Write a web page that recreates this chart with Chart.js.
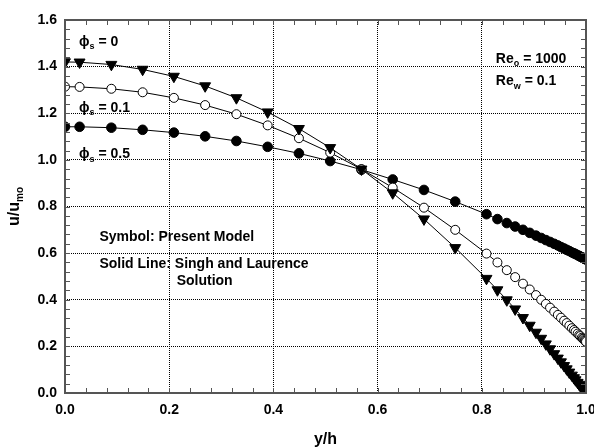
<!DOCTYPE html>
<html>
<head>
<meta charset="utf-8">
<script src="https://cdn.jsdelivr.net/npm/chart.js@4.4.1/dist/chart.umd.min.js"></script>
<style>
    body { margin: 0; background: #fff; }
    #chart-wrap { width: 594px; height: 448px; position: relative; }
</style>
</head>
<body>
<div id="chart-wrap"><canvas id="velocity-chart"></canvas></div>
<script>
// y/h positions of the profile samples (clustered towards the wall)
const yOverH = [0, 0.028, 0.089, 0.149, 0.209, 0.269, 0.329, 0.389, 0.449, 0.509,
    0.569, 0.629, 0.689, 0.749, 0.809, 0.830, 0.848, 0.864, 0.879, 0.892,
    0.904, 0.914, 0.923, 0.931, 0.939, 0.946, 0.952, 0.958, 0.963, 0.968,
    0.973, 0.977, 0.980, 0.984, 0.987, 0.989, 0.992, 0.994, 0.995, 0.997,
    0.998, 0.999, 1.0];

// u/u_mo for phi_s = 0
const uPhi0 = [1.420, 1.419, 1.409, 1.388, 1.358, 1.317, 1.266, 1.205, 1.134, 1.052,
    0.960, 0.858, 0.746, 0.623, 0.491, 0.442, 0.399, 0.360, 0.323, 0.290,
    0.260, 0.234, 0.210, 0.189, 0.168, 0.149, 0.133, 0.117, 0.103, 0.089,
    0.076, 0.065, 0.056, 0.045, 0.037, 0.031, 0.023, 0.017, 0.014, 0.009,
    0.006, 0.003, 0.000];

// u/u_mo for phi_s = 0.1
const uPhi01 = [1.314, 1.313, 1.305, 1.290, 1.266, 1.235, 1.196, 1.148, 1.093, 1.031,
    0.960, 0.881, 0.795, 0.700, 0.598, 0.560, 0.527, 0.497, 0.469, 0.444,
    0.420, 0.400, 0.382, 0.366, 0.349, 0.335, 0.323, 0.310, 0.300, 0.289,
    0.278, 0.270, 0.263, 0.255, 0.248, 0.244, 0.237, 0.233, 0.231, 0.227,
    0.224, 0.222, 0.220];

// u/u_mo for phi_s = 0.5
const uPhi05 = [1.142, 1.142, 1.138, 1.129, 1.117, 1.101, 1.081, 1.056, 1.028, 0.995,
    0.958, 0.916, 0.871, 0.821, 0.767, 0.746, 0.729, 0.714, 0.700, 0.687,
    0.675, 0.665, 0.656, 0.648, 0.640, 0.633, 0.626, 0.620, 0.614, 0.609,
    0.603, 0.599, 0.596, 0.591, 0.588, 0.585, 0.582, 0.580, 0.579, 0.576,
    0.575, 0.574, 0.573];

const FONT = '"Liberation Sans", Arial, Helvetica, sans-serif';
const PHI = '\u03d5';

const toPoints = (xs, ys) => xs.map((x, i) => ({ x: x, y: ys[i] }));

// text blocks inside the plot, positioned in data units; [text, isSubscript]
const notes = [
    { x: 0.027, y: 1.506, parts: [[PHI], ['s', true], [' = 0']] },
    { x: 0.027, y: 1.223, parts: [[PHI], ['s', true], [' = 0.1']] },
    { x: 0.027, y: 1.025, parts: [[PHI], ['s', true], [' = 0.5']] },
    { x: 0.827, y: 1.433, parts: [['Re'], ['o', true], [' = 1000']] },
    { x: 0.827, y: 1.338, parts: [['Re'], ['w', true], [' = 0.1']] },
    { x: 0.066, y: 0.669, parts: [['Symbol: Present Model']] },
    { x: 0.066, y: 0.553, parts: [['Solid Line: Singh and Laurence']] },
    { x: 0.268, y: 0.480, parts: [['Solution']], center: true }
];

function drawParts(ctx, x, y, parts, size, subSize, subShift) {
    let cx = x;
    parts.forEach(([t, sub]) => {
        ctx.font = `bold ${sub ? subSize : size}px ${FONT}`;
        ctx.fillText(t, cx, y + (sub ? subShift : 0));
        cx += ctx.measureText(t).width;
    });
}

function partsWidth(ctx, parts, size, subSize) {
    return parts.reduce((w, [t, sub]) => {
        ctx.font = `bold ${sub ? subSize : size}px ${FONT}`;
        return w + ctx.measureText(t).width;
    }, 0);
}

const framePlugin = {
    id: 'frame',
    afterDatasetsDraw(chart) {
        const { ctx, chartArea: a, scales: { x, y } } = chart;
        ctx.save();
        ctx.strokeStyle = '#555';
        ctx.lineWidth = 1;
        ctx.beginPath();
        // inward minor ticks every 0.04 on all four sides
        for (let k = 0; k <= 25; k++) {
            const px = Math.round(x.getPixelForValue(k * 0.04)) + 0.5;
            ctx.moveTo(px, a.bottom); ctx.lineTo(px, a.bottom - 5);
            ctx.moveTo(px, a.top); ctx.lineTo(px, a.top + 5);
        }
        for (let k = 0; k <= 40; k++) {
            const py = Math.round(y.getPixelForValue(k * 0.04)) + 0.5;
            ctx.moveTo(a.left, py); ctx.lineTo(a.left + 5, py);
            ctx.moveTo(a.right, py); ctx.lineTo(a.right - 5, py);
        }
        ctx.stroke();
        ctx.lineWidth = 2;
        ctx.strokeRect(a.left, a.top, a.right - a.left, a.bottom - a.top);

        // annotations
        ctx.fillStyle = '#000';
        ctx.textBaseline = 'middle';
        ctx.textAlign = 'left';
        notes.forEach(n => {
            let px = x.getPixelForValue(n.x);
            const py = y.getPixelForValue(n.y);
            if (n.center) px -= partsWidth(ctx, n.parts, 14, 9) / 2;
            drawParts(ctx, px, py, n.parts, 14, 9, 5);
        });

        // rotated y axis title u/u_mo
        const titleParts = [['u/u'], ['mo', true]];
        const tw = partsWidth(ctx, titleParts, 16, 10);
        ctx.translate(15, (a.top + a.bottom) / 2);
        ctx.rotate(-Math.PI / 2);
        drawParts(ctx, -tw / 2, 0, titleParts, 16, 10, 5);
        ctx.restore();
    }
};

const ctx = document.getElementById('velocity-chart').getContext('2d');
new Chart(ctx, {
    type: 'scatter',
    data: {
        datasets: [{
            label: PHI + 's = 0',
            data: toPoints(yOverH, uPhi0),
            showLine: true,
            borderColor: '#000',
            borderWidth: 1,
            pointStyle: 'triangle',
            pointRotation: 180,
            pointRadius: 6.3,
            pointBackgroundColor: '#000',
            pointBorderColor: '#000',
            pointBorderWidth: 1
        }, {
            label: PHI + 's = 0.1',
            data: toPoints(yOverH, uPhi01),
            showLine: true,
            borderColor: '#000',
            borderWidth: 1,
            pointStyle: 'circle',
            pointRadius: 4.5,
            pointBackgroundColor: '#fff',
            pointBorderColor: '#000',
            pointBorderWidth: 1
        }, {
            label: PHI + 's = 0.5',
            data: toPoints(yOverH, uPhi05),
            showLine: true,
            borderColor: '#000',
            borderWidth: 1,
            pointStyle: 'circle',
            pointRadius: 4.8,
            pointBackgroundColor: '#000',
            pointBorderColor: '#000',
            pointBorderWidth: 1
        }]
    },
    options: {
        responsive: true,
        maintainAspectRatio: false,
        animation: false,
        layout: { padding: { top: 20, right: 0, left: 0, bottom: 0 } },
        scales: {
            x: {
                type: 'linear',
                min: 0,
                max: 1,
                afterFit: s => {
                    s.height = 55;
                    s.paddingLeft = 0;
                    s.paddingRight = 8;
                },
                ticks: {
                    stepSize: 0.2,
                    padding: 9,
                    color: '#000',
                    font: { family: FONT, size: 14, weight: 'bold' },
                    callback: v => v.toFixed(1)
                },
                grid: { color: '#000', lineWidth: 1, drawTicks: false },
                border: { display: false, dash: [1, 1] },
                title: {
                    display: true,
                    text: 'y/h',
                    color: '#000',
                    font: { family: FONT, size: 16, weight: 'bold', lineHeight: 1 },
                    padding: { top: 0, bottom: 0 }
                }
            },
            y: {
                type: 'linear',
                min: 0,
                max: 1.6,
                afterFit: s => { s.width = 65; },
                ticks: {
                    stepSize: 0.2,
                    padding: 8,
                    color: '#000',
                    font: { family: FONT, size: 14, weight: 'bold' },
                    callback: v => v.toFixed(1)
                },
                grid: { color: '#000', lineWidth: 1, drawTicks: false },
                border: { display: false, dash: [1, 1] }
            }
        },
        plugins: {
            legend: { display: false },
            tooltip: { enabled: false }
        }
    },
    plugins: [framePlugin]
});
</script>
</body>
</html>
